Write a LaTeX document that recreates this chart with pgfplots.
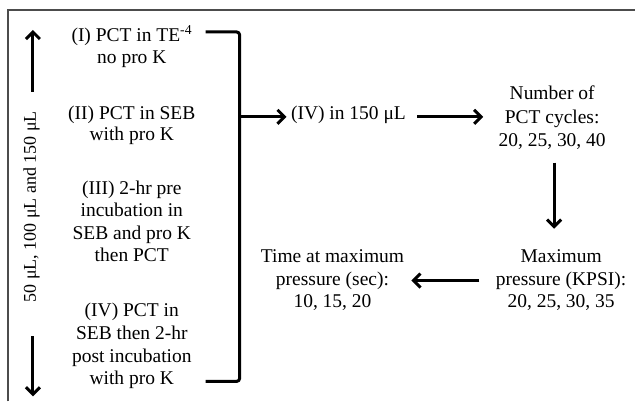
\documentclass[border=0pt]{standalone}
\usepackage{pgfplots}
\pgfplotsset{compat=1.18}
\usepackage{fontspec}
\setmainfont{Liberation Serif}
\usetikzlibrary{arrows.meta}

\newcommand{\txt}[3]{\node[anchor=base, inner sep=0pt, font=\fontsize{19.5bp}{23bp}\selectfont] at (axis cs:#1,#2) {#3};}

\begin{document}
\begin{tikzpicture}
\begin{axis}[
    width=636bp, height=402bp, scale only axis,
    xmin=0, xmax=636, ymin=0, ymax=402,
    y dir=reverse,
    hide axis, clip=false,
    arr/.style={black, line width=3bp, -{Straight Barb[length=7bp,width=14bp]}},
]
\path (axis cs:0,0) rectangle (axis cs:636,402);

% frame (cut at right and bottom)
\addplot[color=black!70, line width=2bp] coordinates {(8,402) (8,10) (636,10)};

% volume arrows and label
\addplot[arr] coordinates {(33,92) (33,30)};
\addplot[arr] coordinates {(33,337) (33,397)};
\node[rotate=90, anchor=base, inner sep=0pt, font=\fontsize{18bp}{22bp}\selectfont] at (axis cs:36,207) {50 μL, 100 μL and 150 μL};

% treatments
\txt{132}{42}{(I) PCT in TE\textsuperscript{-4}}
\txt{132}{64}{no pro K}
\txt{132}{120}{(II) PCT in SEB}
\txt{132}{141}{with pro K}
\txt{132}{195}{(III) 2-hr pre}
\txt{132}{217}{incubation in}
\txt{132}{240}{SEB and pro K}
\txt{132}{262}{then PCT}
\txt{132}{317}{(IV) PCT in}
\txt{132}{340}{SEB then 2-hr}
\txt{132}{363}{post incubation}
\txt{132}{385}{with pro K}

% bracket
\addplot[black, line width=3bp, rounded corners=3bp] coordinates {(206,32) (240,32) (240,382) (206,382)};
\addplot[arr] coordinates {(240,117) (287,117)};

\txt{349}{120}{(IV) in 150 μL}
\addplot[arr] coordinates {(418,117) (484,117)};

\txt{553}{100}{Number of}
\txt{553}{124}{PCT cycles:}
\txt{553}{147}{20, 25, 30, 40}
\addplot[arr] coordinates {(555,163) (555,229)};

\txt{562}{263}{Maximum}
\txt{562}{286}{pressure (KPSI):}
\txt{562}{308}{20, 25, 30, 35}
\addplot[arr] coordinates {(480,281) (412,281)};

\txt{333}{263}{Time at maximum}
\txt{333}{286}{pressure (sec):}
\txt{333}{308}{10, 15, 20}
\end{axis}
\end{tikzpicture}
\end{document}
